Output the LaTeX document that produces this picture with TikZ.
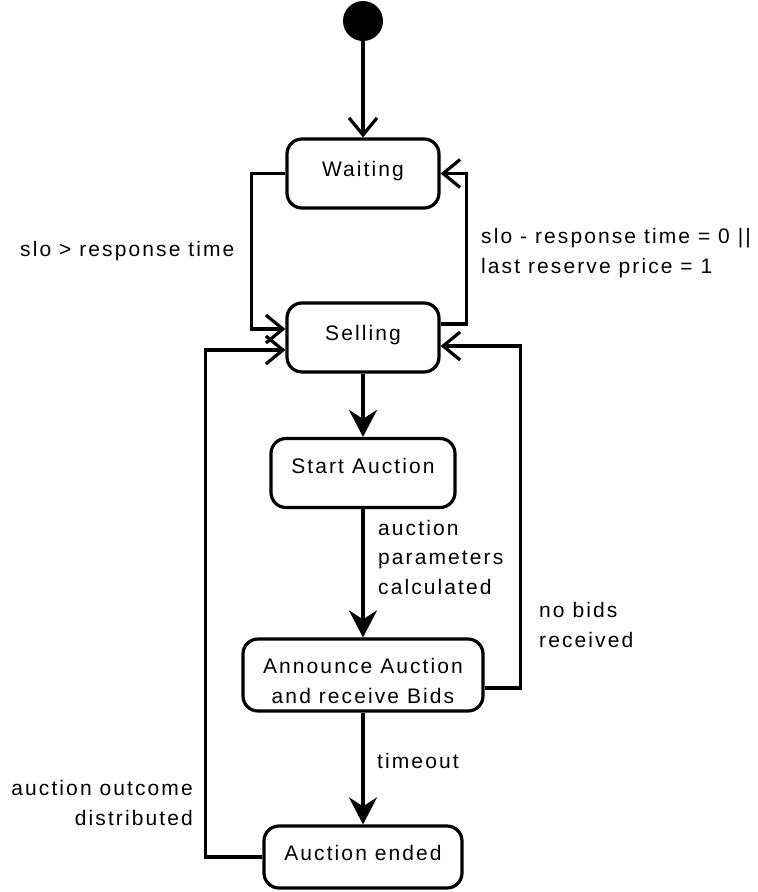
\documentclass[tikz,border=0pt]{standalone}
\usepackage{fontspec}
\usetikzlibrary{arrows.meta}
\newfontfamily\lblfont[LetterSpace=10]{Liberation Sans}
\begin{document}
\begin{tikzpicture}[x=1pt,y=-1pt,
  statebox/.style={draw, line width=3.2pt, rounded corners=15pt, inner sep=0pt},
  txt/.style={font=\lblfont\fontsize{21}{29.5}\selectfont, inner sep=0pt},
  openarrow/.style={line width=3.2pt, -{Straight Barb[length=17pt,width=28pt,line width=3.2pt]}},
  fillarrow/.style={line width=3.2pt, -{Stealth[length=27pt,width=28pt,inset=9pt]}}]
\useasboundingbox (0,0) rectangle (758,892);

% initial pseudo-state
\node[circle, fill=black, minimum size=40pt, inner sep=0pt] (init) at (363,21) {};

% states
\node[statebox, minimum width=152pt, minimum height=69pt] (waiting) at (363,173.5) {};
\node[statebox, minimum width=152pt, minimum height=69pt] (selling) at (363,337.5) {};
\node[statebox, minimum width=184pt, minimum height=69pt] (start) at (363,473) {};
\node[statebox, minimum width=240pt, minimum height=72pt] (announce) at (363,675) {};
\node[statebox, minimum width=198pt, minimum height=62pt] (ended) at (363,857) {};

% state names (base anchor = baseline of the last line)
\node[txt, anchor=base] (waitingT) at (363,176) {Waiting};
\node[txt, anchor=base] (sellingT) at (363,340) {Selling};
\node[txt, anchor=base] (startT) at (363,473) {Start Auction};
\node[txt, anchor=base, align=center] (announceT) at (363,703) {Announce Auction\\and receive Bids};
\node[txt, anchor=base] (endedT) at (363,860) {Auction ended};

% transitions
\draw[openarrow] (init.south) -- (waiting.north);
\draw[openarrow] (waiting.west) -- ++(-34,0) |- ([yshift=8.5pt]selling.west);
\draw[openarrow] ([yshift=13.5pt]selling.east) -- ++(26,0) |- (waiting.east);
\draw[fillarrow] (selling.south) -- (start.north);
\draw[fillarrow] (start.south) -- (announce.north);
\draw[fillarrow] (announce.south) -- (ended.north);
\draw[openarrow] ([yshift=-13pt]announce.east) -- ++(36,0) |- ([yshift=-8.5pt]selling.east);
\draw[openarrow] (ended.west) -- ++(-57,0) |- ([yshift=-12.5pt]selling.west);

% guards
\node[txt, anchor=base west] (g1) at (20,256) {slo > response time};
\node[txt, anchor=base west, align=left] (g2) at (481,273) {slo - response time = 0 ||\\last reserve price = 1};
\node[txt, anchor=base west, align=left] (g3) at (378,594) {auction\\parameters\\calculated};
\node[txt, anchor=base west, align=left] (g4) at (539,647) {no bids\\received};
\node[txt, anchor=base west] (g5) at (377,768) {timeout};
\node[txt, anchor=base east, align=right] (g6) at (193,825) {auction outcome\\distributed};
\end{tikzpicture}
\end{document}
